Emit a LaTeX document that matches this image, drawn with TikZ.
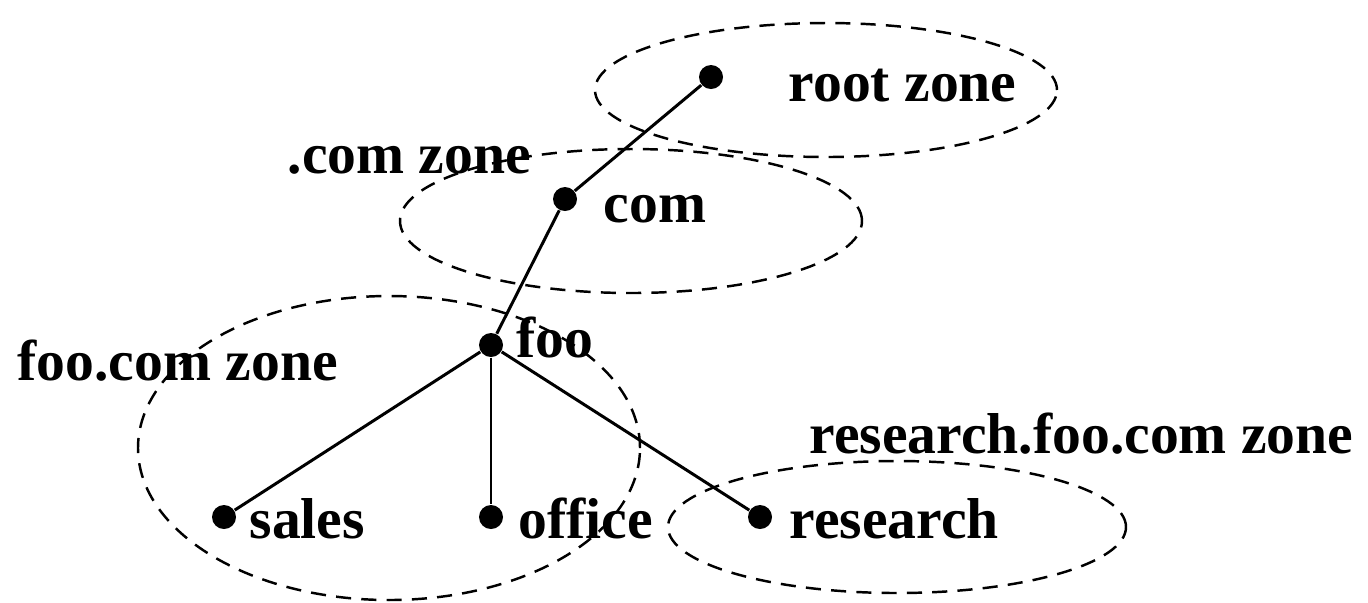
\documentclass[tikz,border=0pt]{standalone}
\usepackage{fontspec}
\setmainfont{Liberation Serif}
\usetikzlibrary{shapes.geometric, positioning}
\tikzset{
    % Zone outlines - dashed ellipses
    zone/.style={
        ellipse,
        draw,
        dash pattern=on 4.3pt off 2.9pt,
        line width=0.7pt,
        inner sep=0pt
    },
    % Tree nodes
    hostdot/.style={
        circle,
        fill=black,
        inner sep=0pt,
        minimum size=0.24cm
    },
    % Text labels
    nametext/.style={
        anchor=base west,
        inner sep=0pt,
        font=\fontsize{16.4}{19}\selectfont\bfseries
    },
    % Tree links
    link/.style={
        line width=0.85pt,
        draw=black
    }
}

\begin{document}
\begin{tikzpicture}
    \useasboundingbox (0,0) rectangle (13.68,-6.02);

    % Zones
    \node[zone, minimum width=4.62cm, minimum height=1.34cm] (rootzone) at (8.26,-0.90) {};
    \node[zone, minimum width=4.62cm, minimum height=1.44cm] (comzone) at (6.31,-2.21) {};
    \node[zone, minimum width=5.02cm, minimum height=3.04cm] (foozone) at (3.89,-4.48) {};
    \node[zone, minimum width=4.58cm, minimum height=1.32cm] (researchzone) at (8.97,-5.27) {};

    % Tree
    \node[hostdot] (root) at (7.11,-0.77) {};
    \node[hostdot] (com) at (5.65,-1.99) {};
    \node[hostdot] (foo) at (4.91,-3.45) {};
    \node[hostdot] (sales) at (2.24,-5.17) {};
    \node[hostdot] (office) at (4.91,-5.17) {};
    \node[hostdot] (research) at (7.60,-5.17) {};

    \draw[link] (root) -- (com);
    \draw[link] (com) -- (foo);
    \draw[link] (foo) -- (sales);
    \draw[link] (foo) -- (office);
    \draw[link] (foo) -- (research);

    % Labels
    \node[nametext] (rootlbl) at (7.88,-1.01) {root zone};
    \node[nametext] (comzonelbl) at (2.87,-1.73) {.com zone};
    \node[nametext] (comlbl) at (6.03,-2.22) {com};
    \node[nametext] (foolbl) at (5.16,-3.57) {foo};
    \node[nametext] (foozonelbl) at (0.17,-3.80) {foo.com zone};
    \node[nametext] (reszonelbl) at (8.09,-4.53) {research.foo.com zone};
    \node[nametext] (saleslbl) at (2.49,-5.38) {sales};
    \node[nametext] (officelbl) at (5.18,-5.38) {office};
    \node[nametext] (researchlbl) at (7.89,-5.38) {research};
\end{tikzpicture}
\end{document}
